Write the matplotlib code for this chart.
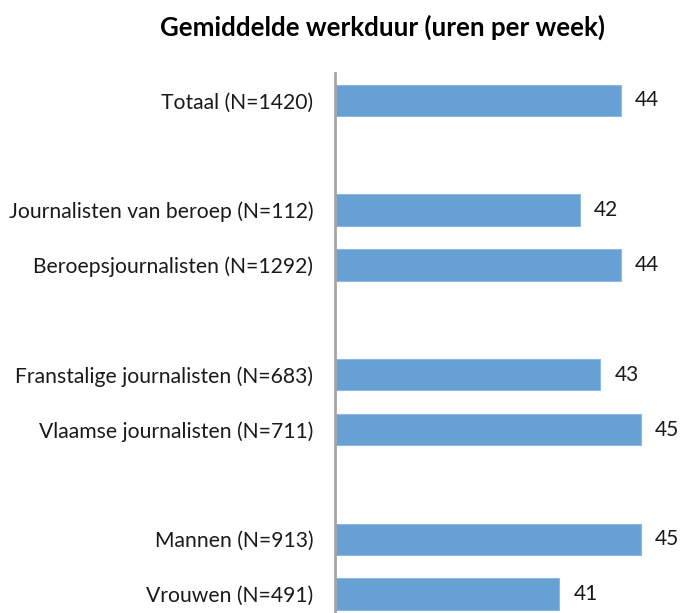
import matplotlib
matplotlib.use("Agg")
import matplotlib.pyplot as plt

categories = ["Totaal (N=1420)", "", "Journalisten van beroep (N=112)",
              "Beroepsjournalisten (N=1292)", "", "Franstalige journalisten (N=683)",
              "Vlaamse journalisten (N=711)", "", "Mannen (N=913)", "Vrouwen (N=491)"]
values = [44, None, 42, 44, None, 43, 45, None, 45, 41]
title = "Gemiddelde werkduur (uren per week)"

plt.rcParams['font.family'] = ['Lato', 'DejaVu Sans']

W, H = 681, 613
fig = plt.figure(figsize=(W / 100, H / 100), dpi=100)
ax = fig.add_axes([335 / W, -8.5 / H, (W - 335) / W, (540 + 8.5) / H])

x0 = 30
ys = list(range(len(categories)))
for y, v in zip(ys, values):
    if v is None:
        continue
    ax.barh(y, v - x0, left=x0, height=0.57, color='#67a0d5', edgecolor='#8cb8e2', linewidth=0.8)
    ax.text(v + 0.7, y, f"{v}", va='center', ha='left', fontsize=15, color='#1a1a1a')

ax.set_ylim(len(categories) - 0.5, -0.5)
ax.set_xlim(x0, x0 + (W - 335) / 20.4)
ax.set_yticks(ys)
ax.set_yticklabels(categories, fontsize=15.2, color='#1a1a1a')
ax.tick_params(axis='y', length=0, pad=15.5)
ax.set_xticks([])
for s in ['top', 'right', 'bottom']:
    ax.spines[s].set_visible(False)
ax.spines['left'].set_color('#a6a6a6')
ax.spines['left'].set_linewidth(2)

fig.text(383 / W, 1 - 27 / H, title, ha='center', va='center', fontsize=18.6, fontweight='bold', color='#000000')

fig.savefig("out.png", dpi=100)
